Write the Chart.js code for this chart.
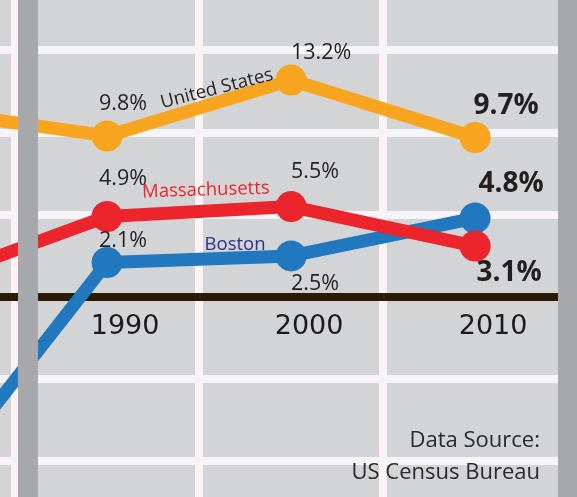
<!DOCTYPE html>
<html>
<head>
<meta charset="utf-8">
<script src="https://cdn.jsdelivr.net/npm/chart.js@4.4.0/dist/chart.umd.min.js"></script>
<style>
  html, body { margin: 0; padding: 0; background: #d3d4d6; }
  #wrap { width: 577px; height: 497px; overflow: hidden; }
</style>
</head>
<body>
<div id="wrap"><canvas id="growthChart" width="577" height="497"></canvas></div>
<script>
// population growth by decade (%), 1980 is cut off on the left of the picture
var years = [1980, 1990, 2000, 2010];
var usGrowth = [11.4, 9.8, 13.2, 9.7];
var maGrowth = [0.8, 4.9, 5.5, 3.1];
var bostonGrowth = [-12.2, 2.1, 2.5, 4.8];

// grid positions on the axes
var gridYears = [1985, 1995, 2005];
var gridPercents = [-10, -5, 0, 5, 10, 15];
var yearLabels = ['1990', '2000', '2010'];

var sourceLines = ['Data Source:', 'US Census Bureau'];

// label placement / look, relative to the plotted point
var seriesStyle = {
  'United States': {
    color: '#f7a51e',
    name: { idx: 1, dx: 111, dy: -42, rot: -14.4, color: '#231f20' },
    offsets: [null, [16, -26], [30, -21], [31, -24]]
  },
  'Massachusetts': {
    color: '#ec242b',
    name: { idx: 1, dx: 99, dy: -21, rot: -1.8, color: '#ec242b' },
    offsets: [null, [16, -31], [24, -29], [34, 35]]
  },
  'Boston': {
    color: '#2178bf',
    name: { idx: 1, dx: 128, dy: -12, rot: 0, color: '#2e3192' },
    offsets: [null, [16, -15], [24, 34], [36, -26]]
  }
};

function pts(vals) {
  return vals.map(function (v, i) { return { x: years[i], y: v }; });
}

function makeSet(label, vals) {
  var c = seriesStyle[label].color;
  return {
    label: label,
    data: pts(vals),
    borderColor: c,
    backgroundColor: c,
    borderWidth: 13,
    pointRadius: 15.5,
    pointHoverRadius: 15.5,
    pointBorderWidth: 0,
    pointBackgroundColor: c,
    tension: 0,
    borderJoinStyle: 'round'
  };
}

var decorPlugin = {
  id: 'decor',
  beforeDraw: function (chart) {
    var ctx = chart.ctx;
    ctx.save();
    ctx.fillStyle = '#d3d4d6';
    ctx.fillRect(0, 0, chart.width, chart.height);
    ctx.restore();
  },
  afterDatasetsDraw: function (chart) {
    var ctx = chart.ctx;
    var xs = chart.scales.x, ys = chart.scales.y;
    ctx.save();

    // value + series labels
    chart.data.datasets.forEach(function (ds) {
      var st = seriesStyle[ds.label];
      ds.data.forEach(function (p, i) {
        var off = st.offsets[i];
        if (!off) return;
        var px = xs.getPixelForValue(p.x), py = ys.getPixelForValue(p.y);
        var last = i === ds.data.length - 1;
        ctx.font = last ? 'bold 28px "Open Sans"' : '21.5px "Open Sans"';
        ctx.fillStyle = '#231f20';
        ctx.textAlign = 'center';
        ctx.textBaseline = 'alphabetic';
        ctx.fillText(p.y.toFixed(1) + '%', px + off[0], py + off[1]);
      });
      var n = st.name;
      var a = ds.data[n.idx];
      ctx.save();
      ctx.translate(xs.getPixelForValue(a.x) + n.dx, ys.getPixelForValue(a.y) + n.dy);
      ctx.rotate(n.rot * Math.PI / 180);
      ctx.font = '18.5px "Open Sans"';
      ctx.fillStyle = n.color;
      ctx.textAlign = 'center';
      ctx.fillText(ds.label, 0, 0);
      ctx.restore();
    });

    // decade labels under the zero line
    ctx.font = '27px "DejaVu Sans"';
    ctx.fillStyle = '#1c1a1b';
    ctx.textAlign = 'center';
    var zeroY = ys.getPixelForValue(0);
    yearLabels.forEach(function (t) {
      ctx.fillText(t, xs.getPixelForValue(Number(t)) + 18, zeroY + 37);
    });

    // source note
    ctx.font = '22px "Open Sans"';
    ctx.fillStyle = '#2a2a2a';
    ctx.textAlign = 'right';
    ctx.fillText(sourceLines[0], 540, 447);
    ctx.fillText(sourceLines[1], 540, 479);

    // grey frame bars
    ctx.fillStyle = '#a7a8ab';
    ctx.fillRect(18, 0, 20, chart.height);
    ctx.fillRect(558, 0, 19, chart.height);
    ctx.restore();
  }
};

var ctx = document.getElementById('growthChart').getContext('2d');
var chart = new Chart(ctx, {
  type: 'line',
  data: {
    datasets: [
      makeSet('United States', usGrowth),
      makeSet('Massachusetts', maGrowth),
      makeSet('Boston', bostonGrowth)
    ]
  },
  options: {
    responsive: false,
    animation: false,
    events: [],
    layout: { padding: 0, autoPadding: false },
    plugins: { legend: { display: false }, tooltip: { enabled: false } },
    scales: {
      x: {
        type: 'linear',
        min: 1984.18,
        max: 2015.54,
        afterBuildTicks: function (s) { s.ticks = gridYears.map(function (v) { return { value: v }; }); },
        ticks: { display: false },
        border: { display: false },
        grid: { color: '#fcf4f4', lineWidth: 8, drawTicks: false }
      },
      y: {
        type: 'linear',
        min: -12.17,
        max: 18.07,
        afterBuildTicks: function (s) { s.ticks = gridPercents.map(function (v) { return { value: v }; }); },
        ticks: { display: false },
        border: { display: false },
        grid: {
          drawTicks: false,
          color: function (c) { return c.tick && c.tick.value === 0 ? '#2b1a08' : '#f6f4f9'; },
          lineWidth: 8
        }
      }
    }
  },
  plugins: [decorPlugin]
});
</script>
</body>
</html>
